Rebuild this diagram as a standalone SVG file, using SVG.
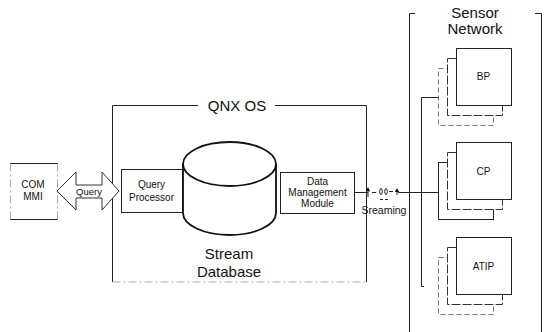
<svg xmlns="http://www.w3.org/2000/svg" width="545" height="332" viewBox="0 0 545 332">
<style>
  text { font-family: "Liberation Sans", Arial, Helvetica, sans-serif; fill: #111; text-anchor: middle; dominant-baseline: central; }
  .t15 { font-size: 15px; }
  .t10 { font-size: 10px; }
  .ln { fill: none; stroke: #222; stroke-width: 1; }
  .faint { fill: none; stroke: #aaa; stroke-width: 1; stroke-dasharray: 8 3 2 3; }
  .box { fill: #fff; stroke: #222; stroke-width: 1; }
  .front { fill: #fff; stroke: #222; stroke-width: 1; }
  .mid { fill: #fff; stroke: #333; stroke-width: 1; stroke-dasharray: 9 2; }
  .back { fill: #fff; stroke: #777; stroke-width: 1; stroke-dasharray: 5 3; }
  .cyl { fill: #fff; stroke: #111; stroke-width: 1.8; }
</style>
<rect width="545" height="332" fill="#fff"/>

<!-- operating system frame -->
<g id="qnx-os">
  <path class="ln" d="M198,105.5 H112.5 V282 M275,105.5 H366.5 V282"/>
  <path class="faint" d="M112.5,282 H366.5"/>
  <text class="t15" x="237" y="105">QNX OS</text>
</g>

<!-- client -->
<g id="com-mmi">
  <path class="ln" d="M10,163.5 H58 M10,219.5 H58"/>
  <path class="faint" d="M10.5,163.5 V219.5 M57.5,163.5 V219.5"/>
  <text class="t10" x="33" y="184">COM</text>
  <text class="t10" x="33" y="196">MMI</text>
</g>

<g id="query-processor">
  <rect class="box" x="121.5" y="169.5" width="61" height="43"/>
  <text class="t10" x="151.5" y="184">Query</text>
  <text class="t10" x="151.5" y="197">Processor</text>
</g>

<g id="stream-database">
  <path class="cyl" d="M183,164 V213 A46.5,22 0 0 0 276,213 V164"/>
  <ellipse class="cyl" cx="229.5" cy="164" rx="46.5" ry="22"/>
  <text class="t15" x="229" y="253">Stream</text>
  <text class="t15" x="229" y="271">Database</text>
</g>

<g id="data-management">
  <rect class="box" x="280.5" y="172.5" width="74" height="41"/>
  <text class="t10" x="317.5" y="181">Data</text>
  <text class="t10" x="317.5" y="192">Management</text>
  <text class="t10" x="317.5" y="203">Module</text>
</g>

<!-- sensor side -->
<g id="sensor-network">
  <path class="ln" d="M415,13.5 H409.5 V332 M535,13.5 H541.5 V332"/>
  <text class="t15" x="475" y="12">Sensor</text>
  <text class="t15" x="475" y="28">Network</text>
</g>

<g id="bp">
  <rect class="back" x="438.5" y="68.5" width="55" height="57"/>
  <rect class="mid" x="447.5" y="58.5" width="55" height="57"/>
  <rect class="front" x="456.5" y="48.5" width="55" height="57"/>
  <text class="t10" x="483.5" y="76">BP</text>
</g>

<g id="cp">
  <rect class="front" x="438.5" y="162.5" width="55" height="57"/>
  <rect class="mid" x="447.5" y="152.5" width="55" height="57"/>
  <rect class="front" x="456.5" y="142.5" width="55" height="57"/>
  <text class="t10" x="483.5" y="171">CP</text>
</g>

<g id="atip">
  <rect class="back" x="438.5" y="257.5" width="55" height="57"/>
  <rect class="mid" x="447.5" y="247.5" width="55" height="57"/>
  <rect class="front" x="456.5" y="237.5" width="55" height="57"/>
  <text class="t10" x="483.5" y="266">ATIP</text>
</g>

<!-- connectors -->
<g id="connectors">
  <!-- two-way query arrow -->
  <polygon points="57,191 76,172 76,185 102,185 102,172 119,191 102,210 102,198 76,198 76,210" fill="#fff" stroke="#333" stroke-width="1"/>
  <text x="89" y="191" style="font-size:9.5px">Query</text>

  <!-- stream link to the sensor bus -->
  <path class="ln" d="M354.5,192.5 H368 M398,192.5 H438.5"/>
  <path class="ln" d="M368,192 V197 M397,192 V195 M372,192.5 H376 M389,191.5 H393 M380,199.5 H383 M385,199.5 H388"/>
  <polygon points="368,187 365.8,191.5 370.2,191.5" fill="#111"/>
  <polygon points="397,188 394.8,192 399.2,192" fill="#111"/>
  <ellipse cx="381" cy="191.5" rx="1.3" ry="3" fill="none" stroke="#222" stroke-width="1"/>
  <ellipse cx="386" cy="191.5" rx="1.3" ry="3" fill="none" stroke="#222" stroke-width="1"/>
  <text x="384" y="210" style="font-size:10.5px">Sreaming</text>

  <!-- sensor bus -->
  <path class="ln" d="M438.5,97.5 H421.5 V286.5 H424"/>
</g>
</svg>
